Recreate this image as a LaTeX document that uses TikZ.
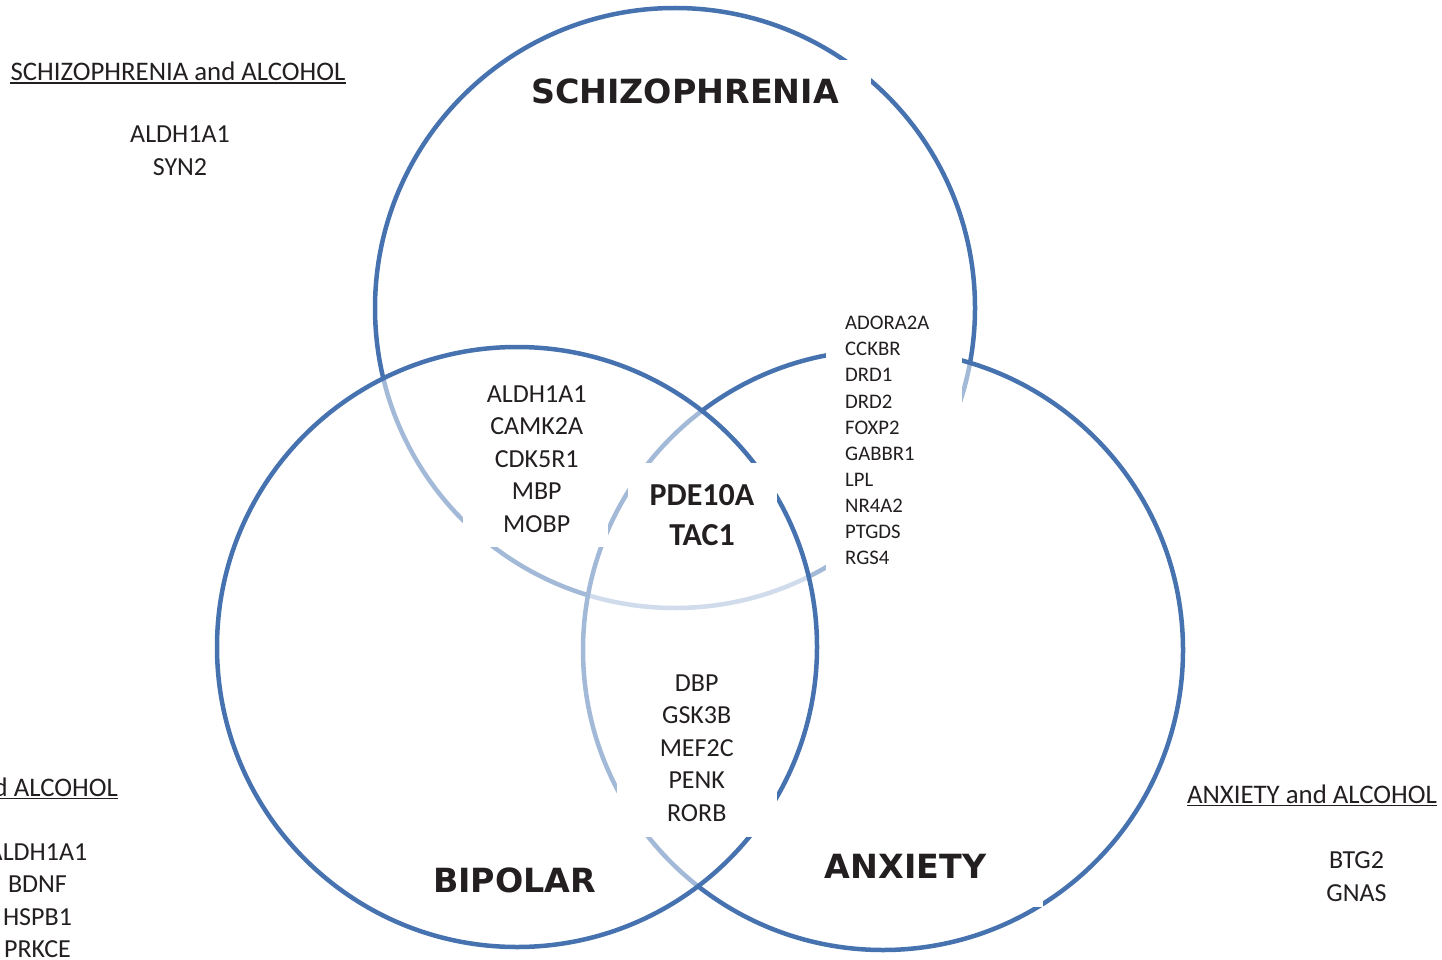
\documentclass[tikz,border=0pt]{standalone}
\usepackage{fontspec}
\setmainfont{Carlito}
\newfontfamily\titlefont{DejaVu Sans}
\definecolor{vblue}{RGB}{70,115,175}
\definecolor{txt}{RGB}{35,31,32}
\begin{document}
\begin{tikzpicture}[x=1pt,y=-1pt,
  venn/.style={circle, draw=vblue, line width=4.5pt, fill=white, fill opacity=0.5, minimum size=600pt, inner sep=0pt},
  mask/.style={fill=white},
  gene/.style={font=\fontsize{26}{32.5}\selectfont, align=center, inner sep=0pt, text=txt},
  small/.style={font=\fontsize{20.7}{26.1}\selectfont, align=left, inner sep=0pt, text=txt},
  core/.style={font=\fontsize{32}{40}\selectfont\bfseries, align=center, inner sep=0pt, text=txt},
  title/.style={font=\titlefont\fontsize{33.3}{38}\selectfont\bfseries, inner sep=0pt, text=txt},
  head/.style={font=\fontsize{26.8}{32}\selectfont, inner sep=0pt, text=txt},
  uline/.style={draw=txt, line width=1.8pt}
]
\path[use as bounding box] (0,0) rectangle (1442,960);
\clip (0,0) rectangle (1442,960);

% circles (bottom to top)
\node[venn] (sz) at (675,308) {};
\node[venn] (ax) at (883,650) {};
\node[venn] (bp) at (517,647) {};

% white masks behind texts
\fill[mask] (520,60) rectangle (871,122);
\fill[mask] (463,372) rectangle (608,547);
\fill[mask] (628,463) rectangle (777,548);
\fill[mask] (617,650) rectangle (777,837);
\fill[mask] (826,305) rectangle (962,575);
\fill[mask] (800,830) rectangle (1043,907);

% titles
\node[title] (tsz) at (685,91.3) {SCHIZOPHRENIA};
\node[title] (tbp) at (514.7,880.5) {BIPOLAR};
\node[title] (tax) at (905.5,866.5) {ANXIETY};

% intersections
\node[gene] (gsb) at (536.7,458.8) {ALDH1A1\\CAMK2A\\CDK5R1\\MBP\\MOBP};
\node[core] (gall) at (702,515.3) {PDE10A\\TAC1};
\node[gene] (gba) at (696.7,747.8) {DBP\\GSK3B\\MEF2C\\PENK\\RORB};
\node[small, anchor=west] (gsa) at (845,440.5) {ADORA2A\\CCKBR\\DRD1\\DRD2\\FOXP2\\GABBR1\\LPL\\NR4A2\\PTGDS\\RGS4};

% alcohol headings
\node[head, anchor=base] (hsz) at (178,80.7) {SCHIZOPHRENIA and ALCOHOL};
\node[head, anchor=base east] (hbp) at (118,796) {BIPOLAR and ALCOHOL};
\node[head, anchor=base] (hax) at (1312,803) {ANXIETY and ALCOHOL};
\draw[uline] ([yshift=-2.4pt]hsz.base west) -- ([yshift=-2.4pt]hsz.base east);
\draw[uline] ([yshift=-2.4pt]hbp.base west) -- ([yshift=-2.4pt]hbp.base east);
\draw[uline] ([yshift=-2.4pt]hax.base west) -- ([yshift=-2.4pt]hax.base east);

\node[gene] (asz) at (180,150.5) {ALDH1A1\\SYN2};
\node[gene] (abp) at (37.5,900.5) {ALDH1A1\\BDNF\\HSPB1\\PRKCE};
\node[gene] (aax) at (1356.5,876.5) {BTG2\\GNAS};
\end{tikzpicture}
\end{document}
